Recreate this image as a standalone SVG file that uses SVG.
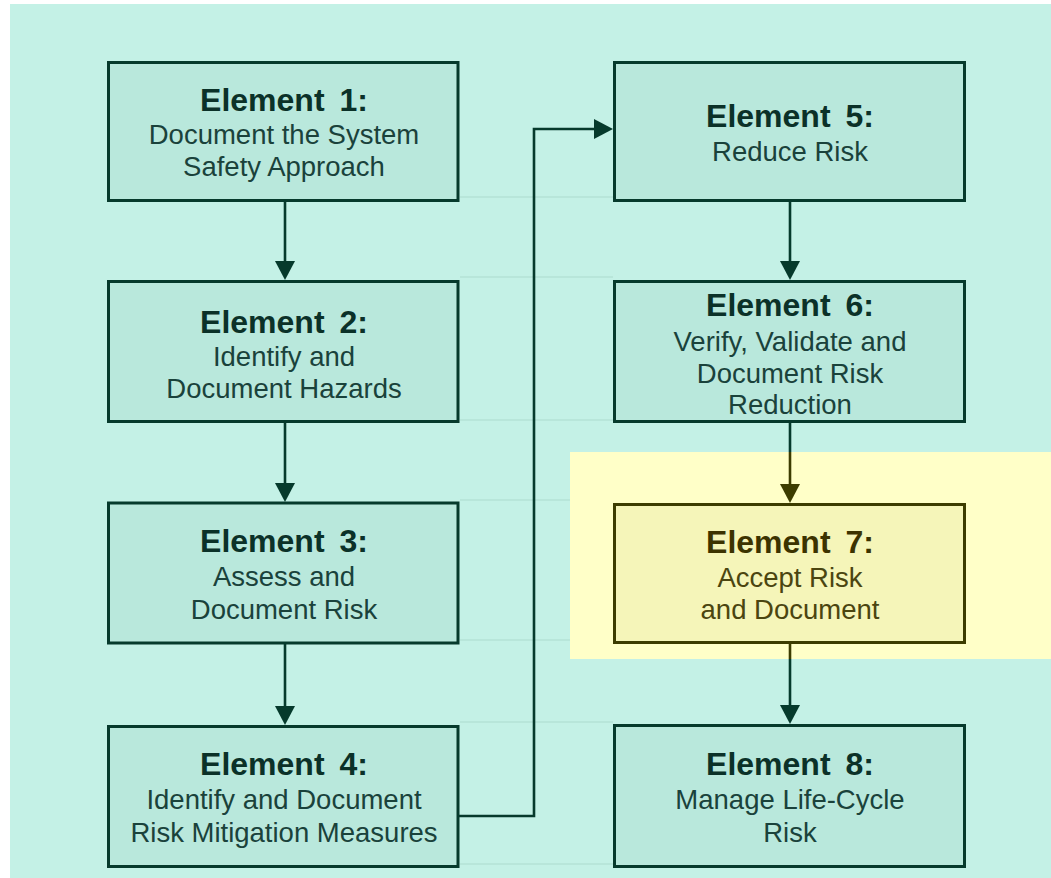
<svg xmlns="http://www.w3.org/2000/svg" width="1051" height="878" viewBox="0 0 1051 878">
<style>
.box{fill:#b9e8dc;stroke:#063a2c;stroke-width:3}
.t{font-family:"Liberation Sans",Arial,sans-serif;text-anchor:middle}
.h{font-size:32px;font-weight:bold;fill:#0b3128;word-spacing:6px}
.s{font-size:27.5px;fill:#1a423b}
.conn{fill:none;stroke:#063a2c;stroke-width:2.6}
.olive{fill:none;stroke:#3c3c00;stroke-width:2.6}
.grid{stroke:#b8e6da;stroke-width:2}
#e7 rect{fill:#f5f5b9;stroke:#3c3c00}
#e7 .h{fill:#3c3300}
#e7 .s{fill:#4b4510}
</style>
<defs>
<marker id="arr" viewBox="0 0 19 20" refX="1" refY="10" markerWidth="19" markerHeight="20" markerUnits="userSpaceOnUse" orient="auto">
<path d="M0,0 L19,10 L0,20 z" fill="#063a2c"/>
</marker>
<marker id="arrO" viewBox="0 0 19 20" refX="1" refY="10" markerWidth="19" markerHeight="20" markerUnits="userSpaceOnUse" orient="auto">
<path d="M0,0 L19,10 L0,20 z" fill="#3c3c00"/>
</marker>
</defs>
<rect x="0" y="0" width="1051" height="878" fill="#ffffff"/>
<rect x="10" y="4" width="1041" height="874" fill="#c4f1e6"/>
<g id="gridlines" class="grid">
<line x1="460" y1="197" x2="613" y2="197"/>
<line x1="460" y1="277" x2="613" y2="277"/>
<line x1="460" y1="420" x2="613" y2="420"/>
<line x1="460" y1="500" x2="570" y2="500"/>
<line x1="460" y1="640" x2="570" y2="640"/>
<line x1="460" y1="722" x2="613" y2="722"/>
<line x1="460" y1="864" x2="613" y2="864"/>
</g>
<g id="connectors">
<path class="conn" d="M285,202 V262" marker-end="url(#arr)"/>
<path class="conn" d="M285,423 V484" marker-end="url(#arr)"/>
<path class="conn" d="M285,644 V707" marker-end="url(#arr)"/>
<path class="conn" d="M459,816 H534 V129 H595" marker-end="url(#arr)"/>
<path class="conn" d="M790,202 V262" marker-end="url(#arr)"/>
<path class="conn" d="M790,423 V485" marker-end="url(#arr)"/>
<path class="conn" d="M790,644 V706" marker-end="url(#arr)"/>
</g>
<g id="highlight">
<rect x="570" y="452" width="481" height="207" fill="#ffffc8"/>
<path class="olive" d="M790,452 V485" marker-end="url(#arrO)"/>
<path class="olive" d="M790,644 V659"/>
</g>
<g id="e1">
<rect class="box" x="108.5" y="62.5" width="349.5" height="138"/>
<text class="t h" x="284" y="111">Element 1:</text>
<text class="t s" x="284" y="144">Document the System</text>
<text class="t s" x="284" y="176">Safety Approach</text>
</g>
<g id="e2">
<rect class="box" x="108.5" y="281.5" width="349.5" height="140"/>
<text class="t h" x="284" y="333">Element 2:</text>
<text class="t s" x="284" y="366">Identify and</text>
<text class="t s" x="284" y="398">Document Hazards</text>
</g>
<g id="e3">
<rect class="box" x="108.5" y="503" width="349.5" height="140"/>
<text class="t h" x="284" y="552">Element 3:</text>
<text class="t s" x="284" y="586">Assess and</text>
<text class="t s" x="284" y="619">Document Risk</text>
</g>
<g id="e4">
<rect class="box" x="108.5" y="726.5" width="349.5" height="140"/>
<text class="t h" x="284" y="775">Element 4:</text>
<text class="t s" x="284" y="809">Identify and Document</text>
<text class="t s" x="284" y="842">Risk Mitigation Measures</text>
</g>
<g id="e5">
<rect class="box" x="614.5" y="62.5" width="350" height="138"/>
<text class="t h" x="790" y="127">Element 5:</text>
<text class="t s" x="790" y="161">Reduce Risk</text>
</g>
<g id="e6">
<rect class="box" x="614.5" y="281.5" width="350" height="140"/>
<text class="t h" x="790" y="316">Element 6:</text>
<text class="t s" x="790" y="351">Verify, Validate and</text>
<text class="t s" x="790" y="383">Document Risk</text>
<text class="t s" x="790" y="414">Reduction</text>
</g>
<g id="e7">
<rect class="box" x="614.5" y="504.5" width="350" height="138"/>
<text class="t h" x="790" y="553">Element 7:</text>
<text class="t s" x="790" y="587">Accept Risk</text>
<text class="t s" x="790" y="619">and Document</text>
</g>
<g id="e8">
<rect class="box" x="614.5" y="725.5" width="350" height="141"/>
<text class="t h" x="790" y="775">Element 8:</text>
<text class="t s" x="790" y="809">Manage Life-Cycle</text>
<text class="t s" x="790" y="842">Risk</text>
</g>
</svg>
